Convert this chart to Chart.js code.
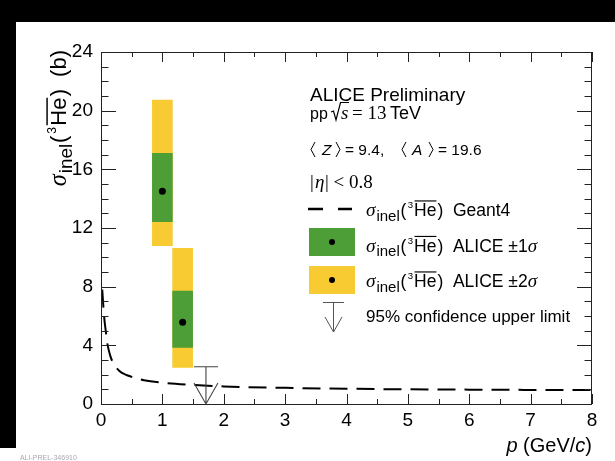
<!DOCTYPE html>
<html><head><meta charset="utf-8">
<script src="https://cdn.jsdelivr.net/npm/chart.js@4/dist/chart.umd.min.js"></script>
<style>html,body{margin:0;padding:0;background:#fff}#c{display:block}</style>
</head><body>
<canvas id="c" width="615" height="461"></canvas>
<script>
// ---- data ----
const xTicks = [0,1,2,3,4,5,6,7,8];
const yTicks = [0,4,8,12,16,20,24];
const aliceP = [1.0, 1.33];
const aliceVal = [14.5, 5.57];
const sig1Lo = [12.43, 3.86];
const sig1Hi = [17.09, 7.70];
const sig2Lo = [10.79, 2.50];
const sig2Hi = [20.72, 10.61];
const ulP = [1.71];
const ulVal = [2.54];
const geantP = [0.02,0.05,0.08,0.1,0.15,0.2,0.3,0.4,0.5,0.7,1.0,1.5,2,3,4,5,6,7,8];
const geantV = [7.8,6.0,4.9,4.2,3.3,2.8,2.25,2.0,1.85,1.62,1.45,1.3,1.2,1.1,1.04,1.0,0.98,0.96,0.95];

const GREEN = '#4d9e37', YELLOW = '#f7cb31';
const SANS = '"Liberation Sans", Arial, Helvetica, sans-serif';
const SERIF = '"Liberation Serif", "Times New Roman", serif';

function drawRich(ctx, segs, x, y, doDraw=true){
  let cx = x;
  for (const s of segs){
    cx += (s.pre||0);
    ctx.font = s.font;
    const w = ctx.measureText(s.t).width;
    if (doDraw){
      ctx.fillText(s.t, cx, y + (s.dy||0));
      if (s.over){
        ctx.save(); ctx.lineWidth = s.ow||1.2; ctx.beginPath();
        ctx.moveTo(cx+0.5, y - s.over); ctx.lineTo(cx + w, y - s.over); ctx.stroke(); ctx.restore();
      }
    }
    cx += w + (s.dx||0);
  }
  return cx - x;
}
function sigmaHe(b, tail){
  return [
    {t:'σ', font:`italic ${(b*1.1).toFixed(1)}px ${SERIF}`, dx: b*0.05},
    {t:'inel', font:`${(b*0.86).toFixed(1)}px ${SANS}`, dy: b*0.26, dx: b*0.04},
    {t:'(', font:`${b}px ${SANS}`, dx: b*0.08},
    {t:'3', font:`${(b*0.55).toFixed(1)}px ${SANS}`, dy: -b*0.45, dx: b*0.06},
    {t:'He', font:`${b}px ${SANS}`, over: b*0.86, ow: Math.max(1, b/15), dx: b*0.06},
    {t:')', font:`${b}px ${SANS}`},
    {t:tail, font:`${b}px ${SANS}`, pre: b*0.55},
  ];
}

const overlay = {
  id:'overlay',
  beforeDraw(chart){
    const ctx = chart.ctx;
    ctx.save();
    ctx.fillStyle = '#fff'; ctx.fillRect(0,0,chart.width,chart.height);
    ctx.fillStyle = '#000';
    ctx.fillRect(0,0,chart.width,22);
    ctx.fillRect(0,0,16,448);
    ctx.restore();
  },
  afterDraw(chart){
    const ctx = chart.ctx, xs = chart.scales.x, ys = chart.scales.y;
    const a = chart.chartArea;
    ctx.save();
    // frame
    ctx.strokeStyle = '#222'; ctx.lineWidth = 1;
    ctx.strokeRect(Math.round(a.left)+0.5, Math.round(a.top)+0.5, Math.round(a.right-a.left)-1, Math.round(a.bottom-a.top));
    // y ticks
    for (let v = 0; v <= 24; v += 1){
      const py = Math.round(ys.getPixelForValue(v)) + 0.5;
      const L = (v % 4 === 0) ? 15 : 7.5;
      ctx.beginPath();
      ctx.moveTo(a.left, py); ctx.lineTo(a.left + L, py);
      ctx.moveTo(a.right, py); ctx.lineTo(a.right - L, py);
      ctx.stroke();
    }
    // x ticks
    for (let v = 0; v <= 8.001; v += 0.5){
      const px = Math.round(xs.getPixelForValue(v)) + 0.5;
      const L = (Math.abs(v - Math.round(v)) < 1e-6) ? 10 : 5;
      ctx.beginPath();
      ctx.moveTo(px, a.bottom); ctx.lineTo(px, a.bottom - L);
      ctx.moveTo(px, a.top); ctx.lineTo(px, a.top + L);
      ctx.stroke();
    }
    // upper limit
    ctx.strokeStyle = '#444'; ctx.lineWidth = 1.1;
    for (let i = 0; i < ulP.length; i++){
      const px = xs.getPixelForValue(ulP[i]), py = ys.getPixelForValue(ulVal[i]), p0 = ys.getPixelForValue(0);
      ctx.beginPath();
      ctx.moveTo(px-12, py); ctx.lineTo(px+12, py);
      ctx.moveTo(px, py); ctx.lineTo(px, p0);
      ctx.moveTo(px-12, p0-21); ctx.lineTo(px, p0); ctx.lineTo(px+12, p0-21);
      ctx.stroke();
    }
    // texts
    ctx.fillStyle = '#000'; ctx.strokeStyle = '#000';
    ctx.textBaseline = 'alphabetic'; ctx.textAlign = 'left';
    ctx.font = `19px ${SANS}`;
    ctx.fillText('ALICE Preliminary', 310, 101);
    // pp sqrt(s) = 13 TeV
    ctx.font = `16px ${SANS}`;
    ctx.fillText('pp', 310, 119);
    ctx.lineWidth = 1.2;
    ctx.beginPath();
    ctx.moveTo(331, 112); ctx.lineTo(333.5, 111); ctx.lineTo(336, 120); ctx.lineTo(340.5, 102.5); ctx.lineTo(349, 102.5);
    ctx.stroke();
    ctx.font = `italic 19px ${SERIF}`;
    ctx.fillText('s', 341, 119);
    ctx.font = `19px ${SERIF}`;
    ctx.fillText('= 13', 352, 119);
    ctx.font = `18px ${SANS}`;
    ctx.fillText('TeV', 390, 119);
    // <Z> = 9.4, <A> = 19.6
    const bl = 155;
    function brk(x, dir){
      ctx.beginPath(); ctx.lineWidth = 1;
      if (dir < 0){ ctx.moveTo(x+4, bl-13); ctx.lineTo(x, bl-5.5); ctx.lineTo(x+4, bl+2); }
      else { ctx.moveTo(x, bl-13); ctx.lineTo(x+4, bl-5.5); ctx.lineTo(x, bl+2); }
      ctx.stroke();
    }
    brk(311, -1);
    ctx.font = `italic 15.5px ${SANS}`; ctx.fillText('Z', 322, bl);
    brk(336, 1);
    ctx.font = `15.5px ${SANS}`; ctx.fillText('= 9.4,', 345, bl);
    brk(402, -1);
    ctx.font = `italic 15.5px ${SANS}`; ctx.fillText('A', 412, bl);
    brk(429, 1);
    ctx.font = `15.5px ${SANS}`; ctx.fillText('= 19.6', 438, bl);
    // |eta| < 0.8
    ctx.font = `19px ${SERIF}`; ctx.fillText('|', 310, 188);
    ctx.font = `italic 19px ${SERIF}`; ctx.fillText('η', 315, 188);
    ctx.font = `19px ${SERIF}`; ctx.fillText('| < 0.8', 325, 188);

    // legend
    ctx.lineWidth = 2.5; ctx.setLineDash([]);
    ctx.beginPath(); ctx.moveTo(308, 209); ctx.lineTo(323, 209); ctx.moveTo(338, 209); ctx.lineTo(352, 209); ctx.stroke();
    const LB = 17.5;
    drawRich(ctx, sigmaHe(LB, 'Geant4'), 366, 216);
    ctx.fillStyle = GREEN; ctx.fillRect(309, 228, 46, 28);
    ctx.fillStyle = '#000'; ctx.beginPath(); ctx.arc(332, 242, 3, 0, Math.PI*2); ctx.fill();
    drawRich(ctx, sigmaHe(LB, 'ALICE ±1').concat([{t:'σ', font:`italic 19px ${SERIF}`}]), 366, 251.5);
    ctx.fillStyle = YELLOW; ctx.fillRect(309, 266, 46, 28);
    ctx.fillStyle = '#000'; ctx.beginPath(); ctx.arc(332, 280, 3, 0, Math.PI*2); ctx.fill();
    drawRich(ctx, sigmaHe(LB, 'ALICE ±2').concat([{t:'σ', font:`italic 19px ${SERIF}`}]), 366, 287);
    ctx.strokeStyle = '#555'; ctx.lineWidth = 1;
    ctx.beginPath();
    ctx.moveTo(323, 302.5); ctx.lineTo(344, 302.5);
    ctx.moveTo(333.5, 302.5); ctx.lineTo(333.5, 332);
    ctx.moveTo(325, 317); ctx.lineTo(333.5, 332); ctx.lineTo(342, 317);
    ctx.stroke();
    ctx.fillStyle = '#000';
    ctx.font = `17px ${SANS}`; ctx.fillText('95% confidence upper limit', 366, 322);

    // y title
    const ysegs = sigmaHe(22, '(b)');
    const W = drawRich(ctx, ysegs, 0, 0, false);
    ctx.save();
    ctx.translate(66, 50 + W); ctx.rotate(-Math.PI/2);
    ctx.strokeStyle = '#000';
    drawRich(ctx, ysegs, 0, 0);
    ctx.restore();
    // x title
    const xsegs = [
      {t:'p', font:`italic 20px ${SANS}`},
      {t:' (GeV/', font:`20px ${SANS}`},
      {t:'c', font:`italic 20px ${SANS}`},
      {t:')', font:`20px ${SANS}`},
    ];
    const XW = drawRich(ctx, xsegs, 0, 0, false);
    drawRich(ctx, xsegs, 592 - XW, 452);
    // watermark
    ctx.fillStyle = '#a8a8b0'; ctx.font = `7px ${SANS}`;
    ctx.fillText('ALI-PREL-346910', 20, 460);
    ctx.restore();
  }
};

const ctx = document.getElementById('c').getContext('2d');
new Chart(ctx, {
  type: 'bar',
  data: {
    datasets: [
      { type:'scatter', label:'ALICE', data: aliceP.map((p,i)=>({x:p, y:aliceVal[i]})),
        pointRadius:3.5, pointBackgroundColor:'#000', pointBorderWidth:0, order:0 },
      { type:'bar', label:'ALICE 1 sigma', data: aliceP.map((p,i)=>({x:p, y:[sig1Lo[i], sig1Hi[i]]})),
        backgroundColor: GREEN, borderWidth:0, grouped:false, barThickness:20, order:1 },
      { type:'bar', label:'ALICE 2 sigma', data: aliceP.map((p,i)=>({x:p, y:[sig2Lo[i], sig2Hi[i]]})),
        backgroundColor: YELLOW, borderWidth:0, grouped:false, barThickness:20, order:2 },
      { type:'line', label:'Geant4', data: geantP.map((p,i)=>({x:p, y:geantV[i]})),
        borderColor:'#000', borderWidth:2, borderDash:[18,9], pointRadius:0, fill:false,
        cubicInterpolationMode:'monotone', order:3 }
    ]
  },
  options: {
    responsive:false, animation:false, devicePixelRatio:1,
    layout:{ padding:{ left:0, right:23, top:52, bottom:0 } },
    plugins:{ legend:{display:false}, tooltip:{enabled:false} },
    scales:{
      x:{ type:'linear', min:0, max:8, offset:false,
          grid:{display:false, drawTicks:false, tickLength:0}, border:{display:false},
          afterBuildTicks(s){ s.ticks = xTicks.map(v=>({value:v})); },
          ticks:{ autoSkip:false, maxRotation:0, color:'#000', padding:5, font:{family:SANS, size:19} },
          afterFit(s){ s.height = 57; } },
      y:{ type:'linear', min:0, max:24,
          grid:{display:false, drawTicks:false, tickLength:0}, border:{display:false},
          afterBuildTicks(s){ s.ticks = yTicks.map(v=>({value:v})); },
          ticks:{ color:'#000', padding:8, font:{family:SANS, size:19} },
          afterFit(s){ s.width = 101; } }
    }
  },
  plugins:[overlay]
});
</script>
</body></html>
